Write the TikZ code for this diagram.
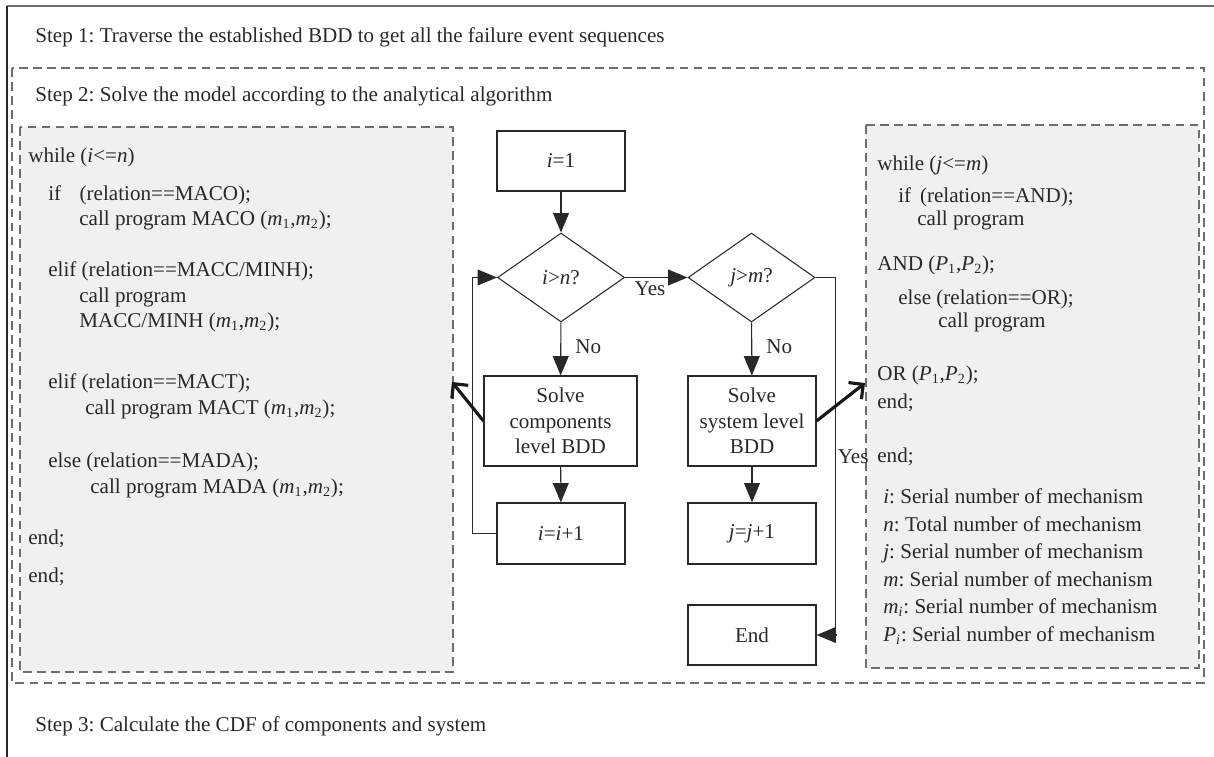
\documentclass[tikz,border=0pt]{standalone}
\usepackage{fontspec}
\setmainfont{Liberation Serif}
\frenchspacing
\usetikzlibrary{arrows.meta, shapes.geometric, positioning}
\definecolor{lineGray}{RGB}{110,110,110}
\definecolor{panelGray}{RGB}{240,240,240}
\definecolor{inkDark}{RGB}{40,40,40}

\tikzset{
  flowbox/.style={draw=inkDark, line width=0.6pt, rectangle, align=center, text=inkDark, inner sep=2pt},
  decision/.style={draw=inkDark, line width=0.6pt, diamond, minimum width=2.54cm, minimum height=1.78cm, inner sep=0pt, text=inkDark},
  flowarrow/.style={draw=inkDark, line width=0.6pt, -{Triangle[length=11pt,width=9pt]}},
  bigarrow/.style={draw=black!90, line width=1.8pt, -{Straight Barb[length=6pt,width=12pt]}},
  codeline/.style={anchor=base west, inner sep=0pt, text=inkDark},
  panel/.style={draw=lineGray, dash pattern=on 5pt off 3pt, line width=0.75pt},
}

\begin{document}
\begin{tikzpicture}[x=0.02cm, y=-0.02cm, every node/.style={font=\fontsize{12}{14.5}\selectfont}]
  \useasboundingbox (0,0) rectangle (1214,757);
  % Outer frame
  \draw[lineGray, line width=1.2pt] (7,6) -- (1214,6);
  \draw[inkDark, line width=0.6pt] (7,6) -- (7,757);
  \node[codeline] (step1) at (35,43) {Step 1: Traverse the established BDD to get all the failure event sequences};
  % Step 2 frame
  \draw[panel] (12,68) rectangle (1204,683);
  \node[codeline] (step2) at (35,102) {Step 2: Solve the model according to the analytical algorithm};
  % Left code panel
  \draw[panel, fill=panelGray] (20,127) rectangle (453,672);
  \node[codeline] (lc1) at (28,162) {while (\textit{i}<=\textit{n})};
  \node[codeline] (lc2) at (48,200) {if\hspace{10.5pt}(relation==MACO);};
  \node[codeline] (lc3) at (79,225) {call program MACO (\textit{m}\textsubscript{1},\textit{m}\textsubscript{2});};
  \node[codeline] (lc4) at (48,276) {elif (relation==MACC/MINH);};
  \node[codeline] (lc5) at (79,302) {call program};
  \node[codeline] (lc6) at (79,327) {MACC/MINH (\textit{m}\textsubscript{1},\textit{m}\textsubscript{2});};
  \node[codeline] (lc7) at (48,388) {elif (relation==MACT);};
  \node[codeline] (lc8) at (85,414) {call program MACT (\textit{m}\textsubscript{1},\textit{m}\textsubscript{2});};
  \node[codeline] (lc9) at (48,467) {else (relation==MADA);};
  \node[codeline] (lc10) at (90,493) {call program MADA (\textit{m}\textsubscript{1},\textit{m}\textsubscript{2});};
  \node[codeline] (lc11) at (28,544) {end;};
  \node[codeline] (lc12) at (28,582) {end;};
  % Right code panel
  \draw[panel, fill=panelGray] (866,125) rectangle (1199,668);
  \node[codeline] (rc1) at (877,171) {while (\textit{j}<=\textit{m})};
  \node[codeline] (rc2) at (898,202) {if\hspace{5pt}(relation==AND);};
  \node[codeline] (rc3) at (917,225) {call program};
  \node[codeline] (rc4) at (877,270) {AND (\textit{P}\textsubscript{1},\textit{P}\textsubscript{2});};
  \node[codeline] (rc5) at (898,304) {else (relation==OR);};
  \node[codeline] (rc6) at (938,327) {call program};
  \node[codeline] (rc7) at (877,380) {OR (\textit{P}\textsubscript{1},\textit{P}\textsubscript{2});};
  \node[codeline] (rc8) at (877,408) {end;};
  \node[codeline] (rc9) at (877,462) {end;};
  \node[codeline] (lg1) at (883,503) {\textit{i}: Serial number of mechanism};
  \node[codeline] (lg2) at (883,531) {\textit{n}: Total number of mechanism};
  \node[codeline] (lg3) at (883,558) {\textit{j}: Serial number of mechanism};
  \node[codeline] (lg4) at (883,586) {\textit{m}: Serial number of mechanism};
  \node[codeline] (lg5) at (883,613) {\textit{m}\textsubscript{\textit{i}}: Serial number of mechanism};
  \node[codeline] (lg6) at (883,641) {\textit{P}\textsubscript{\textit{i}}: Serial number of mechanism};
  \node[codeline] (step3) at (35,731) {Step 3: Calculate the CDF of components and system};
  % Flowchart
  \node[flowbox, minimum width=2.56cm, minimum height=1.2cm] (init) at (561,161) {\textit{i}=1};
  \node[decision] (testi) at (561,277.5) {\textit{i}>\textit{n}?};
  \node[decision] (testj) at (751.5,277.5) {\textit{j}>\textit{m}?};
  \node[flowbox, minimum width=3.06cm, minimum height=1.8cm] (solvecomp) at (560.5,421) {Solve\\components\\level BDD};
  \node[flowbox, minimum width=2.56cm, minimum height=1.8cm] (solvesys) at (752,421) {Solve\\system level\\BDD};
  \node[flowbox, minimum width=2.56cm, minimum height=1.22cm] (inci) at (561,533.5) {\textit{i}=\textit{i}+1};
  \node[flowbox, minimum width=2.56cm, minimum height=1.22cm] (incj) at (752,533.5) {\textit{j}=\textit{j}+1};
  \node[flowbox, minimum width=2.56cm, minimum height=1.2cm] (finish) at (752,635) {End};
  \draw[flowarrow] (init) -- (testi);
  \draw[flowarrow] (testi) -- node[pos=0.45, right=8pt, inner sep=0pt, text=inkDark] (noi) {No} (solvecomp);
  \draw[flowarrow] (testi) -- node[pos=0.4, below=2pt, inner sep=0pt, text=inkDark] (yesi) {Yes} (testj);
  \draw[flowarrow] (solvecomp) -- (inci);
  \draw[flowarrow] (inci.west) -- ++(-24,0) |- (testi.west);
  \draw[flowarrow] (testj) -- node[pos=0.45, right=8pt, inner sep=0pt, text=inkDark] (noj) {No} (solvesys);
  \draw[flowarrow] (solvesys) -- (incj);
  \draw[flowarrow] (testj.east) -- ++(20,0) |- node[pos=0.25, right=1pt, inner sep=0pt, text=inkDark] (yesj) {Yes} (finish.east);
  % Thick pointers to the panels
  \coordinate (leftTip) at (452,382);
  \coordinate (rightTip) at (865,383);
  \draw[bigarrow] (solvecomp.west) -- (leftTip);
  \draw[bigarrow] (solvesys.east) -- (rightTip);
\end{tikzpicture}
\end{document}
